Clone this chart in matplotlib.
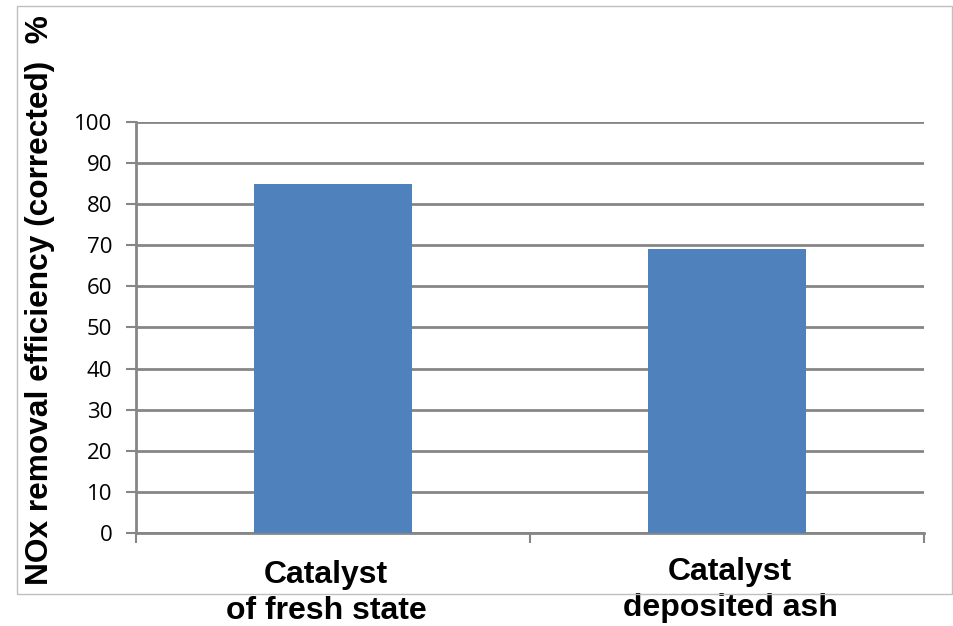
import matplotlib
matplotlib.use('Agg')
import matplotlib.pyplot as plt
from matplotlib.patches import Rectangle

# catalyst states and corrected NOx removal efficiency (%)
categories = ['Catalyst\nof fresh state', 'Catalyst\ndeposited ash']
efficiency = [85, 69]
y_ticks = [0, 10, 20, 30, 40, 50, 60, 70, 80, 90, 100]

bar_color = '#4F81BD'
grid_color = '#868686'

fig = plt.figure(figsize=(9.54, 6.26), dpi=100)
ax = fig.add_axes([0.1426, 0.1486, 0.826, 0.6565])

x = range(len(categories))
ax.bar(x, efficiency, width=0.4, color=bar_color, zorder=3)

ax.set_xlim(-0.5, len(categories) - 0.5)
ax.set_ylim(0, 100)
ax.set_yticks(y_ticks)
ax.set_yticklabels([str(t) for t in y_ticks], fontfamily='Open Sans', fontsize=16)
ax.yaxis.grid(True, color=grid_color, linewidth=2, zorder=0)
ax.set_axisbelow(True)

# category boundaries as ticks, labels placed by hand
ax.set_xticks([-0.5, 0.5, 1.5])
ax.set_xticklabels([])
ax.tick_params(axis='x', length=7, width=1.5, color=grid_color)
ax.tick_params(axis='y', length=7, width=1.5, color=grid_color, pad=10)

for side in ['top', 'right']:
    ax.spines[side].set_visible(False)
ax.spines['left'].set_color(grid_color)
ax.spines['left'].set_linewidth(2)
ax.spines['bottom'].set_color(grid_color)
ax.spines['bottom'].set_linewidth(2)

label_dx = [-0.018, 0.008]
label_y = [-0.066, -0.058]
for i, name in enumerate(categories):
    ax.text(i + label_dx[i], label_y[i], name, transform=ax.get_xaxis_transform(),
            ha='center', va='top', fontfamily='Liberation Sans',
            fontweight='bold', fontsize=23, linespacing=1.25)

fig.text(0.042, 0.521, 'NOx removal efficiency (corrected)  %', rotation=90,
         ha='center', va='center', fontfamily='Liberation Sans',
         fontweight='bold', fontsize=22.8)

# chart border
fig.patches.append(Rectangle((0.0178, 0.0511), 0.980, 0.939,
                             transform=fig.transFigure, fill=False,
                             edgecolor='#BFBFBF', linewidth=1))

fig.savefig('out.png', dpi=100)
